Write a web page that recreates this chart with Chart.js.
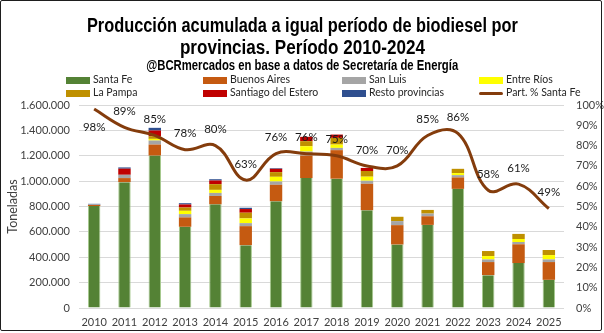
<!DOCTYPE html>
<html lang="es">
<head>
<meta charset="utf-8">
<title>Producción acumulada de biodiesel por provincias</title>
<script src="https://cdn.jsdelivr.net/npm/chart.js@4.4.1/dist/chart.umd.min.js"></script>
<style>
  html, body { margin: 0; padding: 0; background: #fff; }
  #wrap { position: relative; width: 604px; height: 333px; overflow: hidden; }
  #chart { position: absolute; left: 0; top: 0; }
  #frame { position: absolute; left: 0; top: 0; width: 600px; height: 329px;
           border: 1px solid #1e1e1e; border-radius: 2px; pointer-events: none; }
  .ttl { position: absolute; left: 0; width: 604px; text-align: center; white-space: nowrap;
         font-family: "Liberation Sans", Arial, sans-serif; font-weight: bold; color: #000; }
  .ttl span { display: inline-block; transform-origin: 50% 50%; }
  #t1 { top: 14px; font-size: 20px; line-height: 22px; }
  #t2 { top: 36px; font-size: 20px; line-height: 22px; }
  #t3 { top: 57px; font-size: 14px; line-height: 16px; }
  .leg { position: absolute; font: 10.5px Lato, sans-serif; color: #262626;
         white-space: nowrap; line-height: 12px; }
  .sw { display: inline-block; width: 24px; vertical-align: middle; margin-right: 3px; }
</style>
</head>
<body>
<div id="wrap">
  <canvas id="chart" width="604" height="333"></canvas>
  <div class="ttl" id="t1"><span data-w="431">Producción acumulada a igual período de biodiesel por</span></div>
  <div class="ttl" id="t2"><span data-w="245">provincias. Período 2010-2024</span></div>
  <div class="ttl" id="t3"><span data-w="312">@BCRmercados en base a datos de Secretaría de Energía</span></div>
  <div id="legend"></div>
  <div id="frame"></div>
</div>
<script>
// producción por provincia, en toneladas
const years = ['2010','2011','2012','2013','2014','2015','2016','2017',
               '2018','2019','2020','2021','2022','2023','2024','2025'];
const santaFe     = [804000, 992000, 1201000, 640000, 817000, 495000, 841000, 1024000,
                     1019000, 770000, 500000, 655000, 939000, 259000, 354000, 222000];
const buenosAires = [8000, 32000, 87000, 74000, 66000, 150000, 130000, 177000,
                     225000, 209000, 153000, 68000, 90000, 103000, 148000, 140000];
const sanLuis     = [4000, 26000, 32000, 26000, 24000, 24000, 26000, 32000,
                     18000, 24000, 32000, 21000, 18000, 21000, 18000, 21000];
const entreRios   = [0, 0, 13000, 26000, 24000, 37000, 37000, 42000,
                     26000, 32000, 0, 0, 16000, 26000, 24000, 34000];
const laPampa     = [0, 0, 21000, 26000, 45000, 45000, 37000, 40000,
                     53000, 45000, 34000, 29000, 34000, 40000, 40000, 40000];
const santiago    = [0, 48000, 45000, 24000, 29000, 29000, 26000, 34000,
                     26000, 24000, 0, 0, 0, 0, 0, 0];
const resto       = [5000, 10000, 21000, 10000, 10000, 10000, 5000, 0,
                     0, 0, 0, 0, 0, 0, 0, 0];
// participación de Santa Fe (%)
const shareSantaFe = [98, 89, 85, 78, 80, 63, 76, 76, 75, 70, 70, 85, 86, 58, 61, 49];

const tonMax = 1600000, tonStep = 200000;
const pctMax = 100, pctStep = 10;

const fmt = n => String(n).replace(/\B(?=(\d{3})+(?!\d))/g, '.');
const tickFont = { family: 'Lato', size: 11 };

// títulos comprimidos al ancho deseado
document.querySelectorAll('.ttl span').forEach(sp => {
  const w = sp.getBoundingClientRect().width;
  sp.style.transform = 'scaleX(' + (Number(sp.dataset.w) / w) + ')';
});

function bar(label, data, color, extra) {
  return Object.assign({ type: 'bar', label, data, backgroundColor: color,
    borderWidth: 0, yAxisID: 'y', stack: 'prov', order: 1,
    barPercentage: 0.41, categoryPercentage: 1 }, extra || {});
}

const datasets = [
  bar('Santa Fe', santaFe, '#548235',
      { borderColor: '#a6c98e', borderWidth: { left: 1, right: 1, top: 0, bottom: 0 } }),
  bar('Buenos Aires', buenosAires, '#c55a11'),
  bar('San Luis', sanLuis, '#a5a5a5'),
  bar('Entre Ríos', entreRios, '#ffff00'),
  bar('La Pampa', laPampa, '#bf9000'),
  bar('Santiago del Estero', santiago, '#c00000'),
  bar('Resto provincias', resto, '#2f4f8f'),
  { type: 'line', label: 'Part. % Santa Fe', data: shareSantaFe, yAxisID: 'y1',
    borderColor: '#843c0c', backgroundColor: '#843c0c', borderWidth: 3,
    pointRadius: 0, tension: 0.4, order: 0, fill: false }
];

// etiquetas de porcentaje sobre la línea
const shareLabels = {
  id: 'shareLabels',
  afterDatasetsDraw(chart) {
    const meta = chart.getDatasetMeta(7);
    const ctx = chart.ctx;
    ctx.save();
    ctx.font = '11.5px Lato';
    ctx.fillStyle = '#1a1a1a';
    ctx.textAlign = 'center';
    ctx.textBaseline = 'middle';
    meta.data.forEach((pt, i) => {
      const dy = i === 0 ? 18 : -16;
      ctx.fillText(shareSantaFe[i] + '%', pt.x, pt.y + dy);
    });
    ctx.restore();
  }
};

const chart = new Chart(document.getElementById('chart'), {
  data: { labels: years, datasets },
  options: {
    responsive: false,
    animation: false,
    devicePixelRatio: 1,
    layout: { padding: { top: 105, left: 0, right: 0, bottom: 0 } },
    plugins: { legend: { display: false }, tooltip: { enabled: false } },
    scales: {
      x: {
        stacked: true,
        grid: { display: false, drawTicks: false },
        border: { display: false },
        ticks: { font: tickFont, color: '#404040', padding: 8, maxRotation: 0 },
        afterFit: s => { s.height = 25; }
      },
      y: {
        stacked: true, min: 0, max: tonMax,
        grid: { color: '#d9d9d9', drawTicks: false },
        border: { display: false },
        ticks: { stepSize: tonStep, callback: v => fmt(v), font: tickFont,
                 color: '#404040', padding: 9 },
        title: { display: true, text: 'Toneladas', font: { family: 'Lato', size: 12.5 },
                 color: '#404040', padding: { top: 5, bottom: 0 } },
        afterFit: s => { s.width = 79; }
      },
      y1: {
        position: 'right', min: 0, max: pctMax,
        grid: { drawOnChartArea: false, drawTicks: false },
        border: { display: false },
        ticks: { stepSize: pctStep, callback: v => v + '%', font: tickFont,
                 color: '#404040', padding: 12 },
        afterFit: s => { s.width = 40; }
      }
    }
  },
  plugins: [shareLabels]
});

// leyenda en dos filas de cuatro columnas
const legCols = [66, 203, 342, 479];
const legRows = [79, 92];
const legBox = document.getElementById('legend');
chart.data.datasets.forEach((ds, k) => {
  const item = document.createElement('div');
  item.className = 'leg';
  item.style.left = legCols[k % 4] + 'px';
  item.style.top = (legRows[Math.floor(k / 4)] - 6) + 'px';
  const sw = document.createElement('span');
  sw.className = 'sw';
  const isLine = ds.type === 'line';
  sw.style.height = isLine ? '3px' : '7px';
  sw.style.background = isLine ? ds.borderColor : ds.backgroundColor;
  if (isLine) sw.style.borderRadius = '2px';
  item.appendChild(sw);
  item.appendChild(document.createTextNode(ds.label));
  legBox.appendChild(item);
});
</script>
</body>
</html>
